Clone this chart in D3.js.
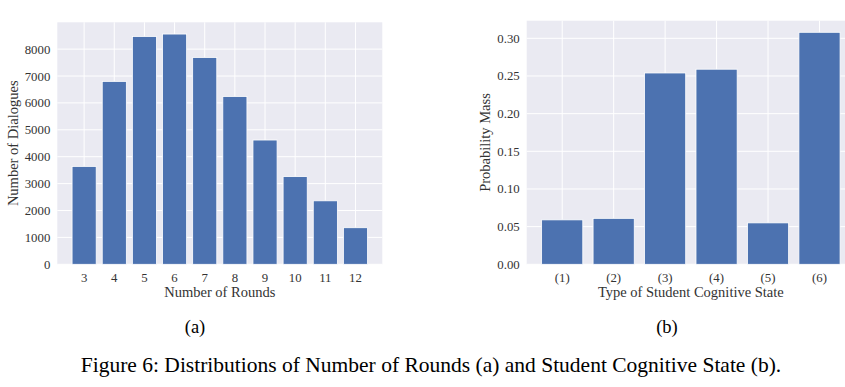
<!DOCTYPE html>
<html><head><meta charset="utf-8">
<script src="https://cdn.jsdelivr.net/npm/d3@7"></script>
<style>body{margin:0;background:#fff}svg{display:block}text{font-family:"Liberation Serif","Times New Roman",serif}</style>
</head><body><svg id="c" width="845" height="387"></svg>
<script>
const rounds = [3,4,5,6,7,8,9,10,11,12];
const dialogues = [3640,6800,8470,8560,7690,6240,4620,3260,2360,1360];
const roundTicks = [0,1000,2000,3000,4000,5000,6000,7000,8000];
const states = ["(1)","(2)","(3)","(4)","(5)","(6)"];
const probMass = [0.059,0.061,0.254,0.259,0.055,0.308];
const probTicks = [0,0.05,0.10,0.15,0.20,0.25,0.30];

const svg = d3.select("#c");
svg.append("rect").attr("width",845).attr("height",387).attr("fill","#fff");
const BG="#EAEAF2", BAR="#4C72B0", TXT="#333";
const TICK=12.8, LAB=14.5;

function panel(o){
  const g = svg.append("g");
  const x = d3.scaleLinear().domain(o.xdom).range([o.x0,o.x1]);
  const y = d3.scaleLinear().domain([0,o.ymax]).range([o.y0,o.y1]);
  g.append("rect").attr("x",o.x0).attr("y",o.y1).attr("width",o.x1-o.x0).attr("height",o.y0-o.y1).attr("fill",BG);
  g.selectAll(".hg").data(o.yticks).enter().append("line")
    .attr("x1",o.x0).attr("x2",o.x1).attr("y1",d=>y(d)).attr("y2",d=>y(d))
    .attr("stroke","#fff").attr("stroke-width",1);
  g.selectAll(".vg").data(o.xpos).enter().append("line")
    .attr("x1",d=>x(d)).attr("x2",d=>x(d)).attr("y1",o.y1).attr("y2",o.y0)
    .attr("stroke","#fff").attr("stroke-width",1);
  g.selectAll(".b").data(o.vals).enter().append("rect")
    .attr("x",(d,i)=>x(o.xpos[i]-0.4)).attr("width",(d,i)=>x(o.xpos[i]+0.4)-x(o.xpos[i]-0.4))
    .attr("y",d=>y(d)).attr("height",d=>o.y0-y(d))
    .attr("fill",BAR).attr("stroke","#fff").attr("stroke-width",0.8);
  g.selectAll(".yt").data(o.yticks).enter().append("text")
    .attr("x",o.x0-7).attr("y",d=>y(d)+4.5).attr("text-anchor","end")
    .attr("font-size",TICK).attr("fill",TXT).text(o.yfmt);
  g.selectAll(".xt").data(o.xpos).enter().append("text")
    .attr("x",d=>x(d)).attr("y",o.y0+17.5).attr("text-anchor","middle")
    .attr("font-size",TICK).attr("fill",TXT).text((d,i)=>o.xlabels[i]);
  g.append("text").attr("x",(o.x0+o.x1)/2).attr("y",o.y0+32.5).attr("text-anchor","middle")
    .attr("font-size",LAB).attr("fill",TXT).text(o.xtitle);
  g.append("text").attr("transform",`translate(${o.ytx},${(o.y0+o.y1)/2}) rotate(-90)`)
    .attr("text-anchor","middle").attr("font-size",LAB).attr("fill",TXT).text(o.ytitle);
}

panel({x0:57.3,x1:382.3,y0:264.3,y1:22.3,
  xdom:[d3.min(rounds)-0.89,d3.max(rounds)+0.89], ymax:d3.max(dialogues)*1.051,
  xpos:rounds, vals:dialogues, xlabels:rounds.map(String), yticks:roundTicks, yfmt:d=>String(d),
  xtitle:"Number of Rounds", ytitle:"Number of Dialogues", ytx:18});

panel({x0:526.7,x1:855,y0:264.3,y1:20.7,
  xdom:[0.31,6.69], ymax:d3.max(probMass)*1.05,
  xpos:states.map((s,i)=>i+1), vals:probMass, xlabels:states, yticks:probTicks, yfmt:d3.format(".2f"),
  xtitle:"Type of Student Cognitive State", ytitle:"Probability Mass", ytx:490});

svg.append("text").attr("x",195).attr("y",333).attr("text-anchor","middle").attr("font-size",18.5).attr("fill","#000").text("(a)");
svg.append("text").attr("x",667).attr("y",333).attr("text-anchor","middle").attr("font-size",18.5).attr("fill","#000").text("(b)");
svg.append("text").attr("x",431).attr("y",372).attr("text-anchor","middle").attr("font-size",21.5).attr("fill","#000")
  .text("Figure 6: Distributions of Number of Rounds (a) and Student Cognitive State (b).");
</script></body></html>
